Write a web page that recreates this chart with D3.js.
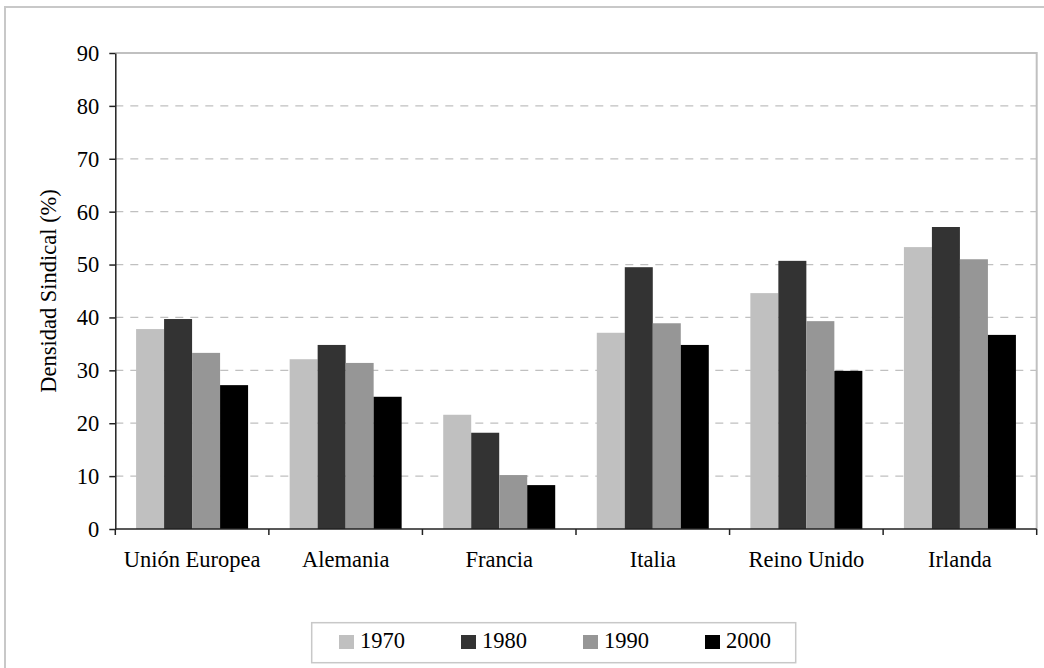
<!DOCTYPE html>
<html>
<head>
<meta charset="utf-8">
<script src="https://cdn.jsdelivr.net/npm/d3@7"></script>
<style>
  html, body { margin: 0; padding: 0; background: #fff; }
  svg text { font-family: "Liberation Serif", "Times New Roman", serif; fill: #000; }
</style>
</head>
<body>
<svg id="chart" width="1044" height="668"></svg>
<script>
// Union density by country and decade
const categories = ["Unión Europea", "Alemania", "Francia", "Italia", "Reino Unido", "Irlanda"];
const years = ["1970", "1980", "1990", "2000"];
const v1970 = [37.8, 32.1, 21.6, 37.1, 44.6, 53.3];
const v1980 = [39.7, 34.8, 18.2, 49.5, 50.7, 57.1];
const v1990 = [33.3, 31.4, 10.2, 38.9, 39.3, 51.0];
const v2000 = [27.2, 25.0, 8.3, 34.8, 29.9, 36.7];
const yTicks = [0, 10, 20, 30, 40, 50, 60, 70, 80, 90];
const yTitle = "Densidad Sindical (%)";

const seriesValues = [v1970, v1980, v1990, v2000];
const colors = ["#c0c0c0", "#333333", "#969696", "#000000"];
const FONT = 22.5;

const svg = d3.select("#chart");

// outer frame
svg.append("rect")
  .attr("x", 5).attr("y", 7)
  .attr("width", 1060).attr("height", 680)
  .attr("fill", "#fff")
  .attr("stroke", "#c8c8c8").attr("stroke-width", 2);

const plot = { left: 115.3, right: 1036.7, top: 53, bottom: 529 };

const x = d3.scaleBand().domain(categories).range([plot.left, plot.right]).padding(0);
const bw = x.bandwidth();
const barW = 28;
const off = (bw - barW * years.length) / 2;
const xSub = d3.scaleBand().domain(years).range([off, bw - off]).padding(0);
const y = d3.scaleLinear().domain([0, 90]).range([plot.bottom, plot.top]);

// dashed gridlines
svg.append("g")
  .selectAll("line")
  .data(yTicks.filter(t => t > 0 && t < 90))
  .join("line")
  .attr("x1", plot.left).attr("x2", plot.right)
  .attr("y1", d => y(d)).attr("y2", d => y(d))
  .attr("stroke", "#c0c0c0").attr("stroke-width", 1.2)
  .attr("stroke-dasharray", "8,7");

// plot area border (top and right)
svg.append("path")
  .attr("d", `M${plot.left},${y(90)}H${plot.right}V${plot.bottom}`)
  .attr("fill", "none")
  .attr("stroke", "#c0c0c0").attr("stroke-width", 2);

// bars
const groups = svg.append("g")
  .selectAll("g")
  .data(years)
  .join("g")
  .attr("fill", (d, i) => colors[i]);

groups.selectAll("rect")
  .data((yr, si) => categories.map((c, ci) => ({ c, yr, v: seriesValues[si][ci] })))
  .join("rect")
  .attr("x", d => x(d.c) + xSub(d.yr))
  .attr("width", xSub.bandwidth())
  .attr("y", d => y(d.v))
  .attr("height", d => y(0) - y(d.v));

// y axis
const yAxis = svg.append("g")
  .attr("transform", `translate(${plot.left},0)`)
  .call(d3.axisLeft(y).tickValues(yTicks).tickSize(6).tickPadding(10).tickSizeOuter(0));
yAxis.select(".domain").attr("stroke", "#222").attr("stroke-width", 1.5);
yAxis.selectAll(".tick line").attr("stroke", "#222").attr("stroke-width", 1.5);
yAxis.selectAll(".tick text")
  .attr("font-size", FONT)
  .attr("font-family", "Liberation Serif, Times New Roman, serif")
  .attr("fill", "#000")
  .attr("dy", "0.33em");

// x axis: baseline, boundary ticks, category labels
const xAxis = svg.append("g");
xAxis.append("line")
  .attr("x1", plot.left).attr("x2", plot.right)
  .attr("y1", plot.bottom).attr("y2", plot.bottom)
  .attr("stroke", "#222").attr("stroke-width", 1.5);
const bounds = categories.map(c => x(c)).concat([x(categories[categories.length - 1]) + bw]);
xAxis.selectAll("line.tk")
  .data(bounds)
  .join("line")
  .attr("class", "tk")
  .attr("x1", d => d).attr("x2", d => d)
  .attr("y1", plot.bottom).attr("y2", plot.bottom + 6)
  .attr("stroke", "#222").attr("stroke-width", 1.5);
xAxis.selectAll("text")
  .data(categories)
  .join("text")
  .attr("x", d => x(d) + bw / 2)
  .attr("y", 567)
  .attr("text-anchor", "middle")
  .attr("font-size", FONT)
  .text(d => d);

// y axis title
svg.append("text")
  .attr("transform", `translate(56,${(plot.top + plot.bottom) / 2}) rotate(-90)`)
  .attr("text-anchor", "middle")
  .attr("font-size", FONT)
  .text(yTitle);

// legend
const legend = svg.append("g").attr("transform", "translate(311.7,622.7)");
legend.append("rect")
  .attr("width", 484).attr("height", 40)
  .attr("fill", "#fff")
  .attr("stroke", "#c8c8c8").attr("stroke-width", 1.5);
const items = legend.selectAll("g.item")
  .data(years)
  .join("g")
  .attr("class", "item")
  .attr("transform", (d, i) => `translate(${27.3 + i * 122},0)`);
items.append("rect")
  .attr("y", 12.3)
  .attr("width", 15).attr("height", 14)
  .attr("fill", (d, i) => colors[i]);
items.append("text")
  .attr("x", 21)
  .attr("y", 25.5)
  .attr("font-size", FONT)
  .text(d => d);
</script>
</body>
</html>
